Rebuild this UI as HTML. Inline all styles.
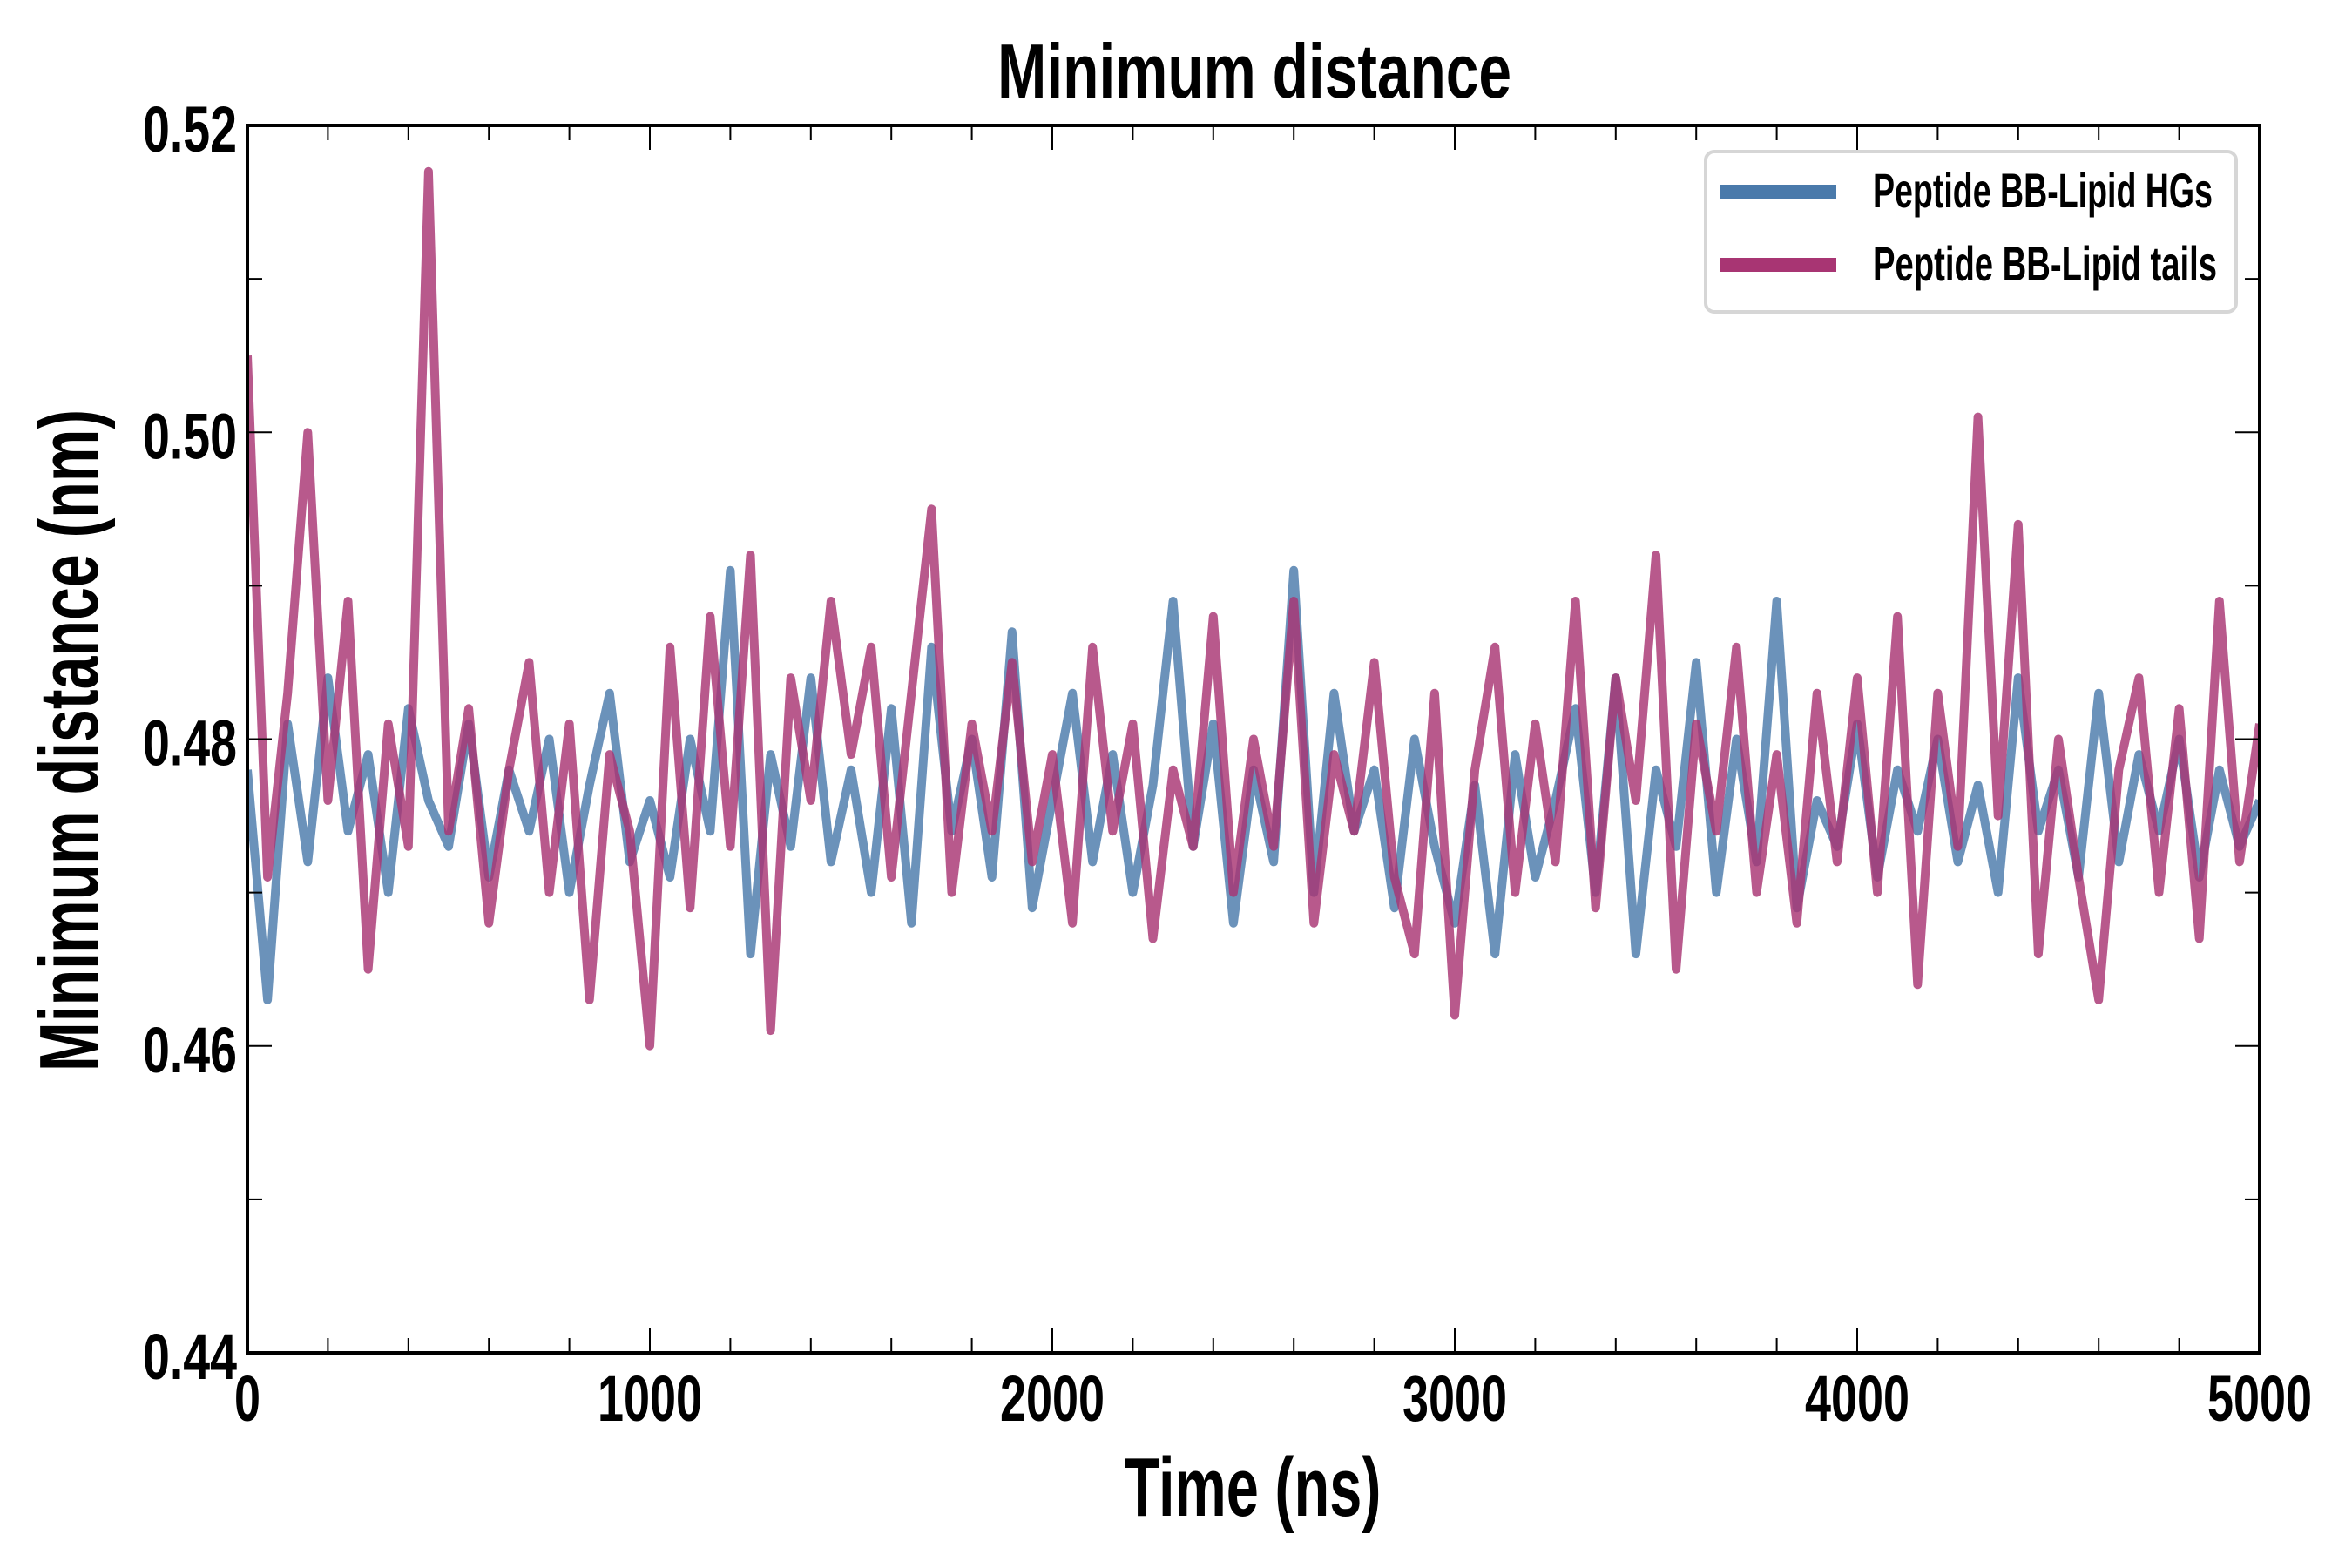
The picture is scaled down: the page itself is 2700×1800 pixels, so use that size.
<!DOCTYPE html>
<html><head><meta charset="utf-8"><style>
html,body{margin:0;padding:0;background:#fff;}
svg{display:block;font-family:"Liberation Sans",sans-serif;font-weight:bold;}
</style></head><body>
<svg id="chart" width="2700" height="1800" viewBox="0 0 2700 1800" xmlns="http://www.w3.org/2000/svg">
<rect width="2700" height="1800" fill="#fff"/>
<text x="1440" y="112" font-size="88" text-anchor="middle" textLength="590" lengthAdjust="spacingAndGlyphs">Minimum distance</text>
<text x="1438" y="1740" font-size="96" text-anchor="middle" textLength="295" lengthAdjust="spacingAndGlyphs">Time (ns)</text>
<text transform="translate(112,850) rotate(-90)" font-size="96" text-anchor="middle" textLength="760" lengthAdjust="spacingAndGlyphs">Minimum distance (nm)</text>
<g id="series"></g>
<g id="axes"></g>
<g>
<rect x="1958" y="174" width="609" height="184" rx="10" fill="#fff" stroke="#d6d6d6" stroke-width="4"/>
<line x1="1974" y1="220" x2="2108" y2="220" stroke="#4a7aab" stroke-width="16"/>
<line x1="1974" y1="304" x2="2108" y2="304" stroke="#a83573" stroke-width="16"/>
<text x="2150" y="238" font-size="56" textLength="390" lengthAdjust="spacingAndGlyphs">Peptide BB-Lipid HGs</text>
<text x="2150" y="322" font-size="56" textLength="395" lengthAdjust="spacingAndGlyphs">Peptide BB-Lipid tails</text>
</g>
</svg>
<script>
const times = Array.from({length:101},(_, i)=>i*50);
const tailsValues = [0.505,0.471,0.483,0.500,0.476,0.489,0.465,0.481,0.473,0.517,0.474,0.482,0.468,0.478,0.485,0.470,0.481,0.463,0.479,0.474,
0.460,0.486,0.469,0.488,0.473,0.492,0.461,0.484,0.476,0.489,0.479,0.486,0.471,0.483,0.495,0.470,0.481,0.474,0.485,0.472,
0.479,0.468,0.486,0.474,0.481,0.467,0.478,0.473,0.488,0.470,0.480,0.473,0.489,0.468,0.479,0.474,0.485,0.471,0.466,0.483,
0.462,0.478,0.486,0.470,0.481,0.472,0.489,0.469,0.484,0.476,0.492,0.465,0.481,0.474,0.486,0.470,0.479,0.468,0.483,0.472,
0.484,0.470,0.488,0.464,0.483,0.473,0.501,0.475,0.494,0.466,0.480,0.471,0.463,0.478,0.484,0.470,0.482,0.467,0.489,0.472,0.481];
const hgsValues = [0.478,0.463,0.481,0.472,0.484,0.474,0.479,0.470,0.482,0.476,0.473,0.481,0.471,0.478,0.474,0.480,0.470,0.477,0.483,0.472,
0.476,0.471,0.480,0.474,0.491,0.466,0.479,0.473,0.484,0.472,0.478,0.470,0.482,0.468,0.486,0.474,0.480,0.471,0.487,0.469,
0.476,0.483,0.472,0.479,0.470,0.477,0.489,0.473,0.481,0.468,0.478,0.472,0.491,0.470,0.483,0.474,0.478,0.469,0.480,0.473,
0.468,0.477,0.466,0.479,0.471,0.476,0.482,0.470,0.484,0.466,0.478,0.473,0.485,0.470,0.480,0.472,0.489,0.469,0.476,0.473,
0.481,0.471,0.478,0.474,0.480,0.472,0.477,0.470,0.484,0.474,0.478,0.471,0.483,0.472,0.479,0.474,0.480,0.471,0.478,0.473,0.476];
const xTickLabels = ["0","1000","2000","3000","4000","5000"];
const yTickLabels = ["0.44","0.46","0.48","0.50","0.52"];

const L=284,R=2594,T=144,B=1553;
const xMin=0,xMax=5000,yMin=0.44,yMax=0.52;
const X=v=>L+(v-xMin)/(xMax-xMin)*(R-L);
const Y=v=>B-(v-yMin)/(yMax-yMin)*(B-T);
const NS="http://www.w3.org/2000/svg";
function mk(tag,attrs,parent){const e=document.createElementNS(NS,tag);for(const k in attrs)e.setAttribute(k,attrs[k]);parent.appendChild(e);return e;}
const sg=document.getElementById('series');
const clip=mk('clipPath',{id:'pc'},sg);mk('rect',{x:L,y:T,width:R-L,height:B-T},clip);
function drawLine(vals,color,name){
  const d=vals.map((v,i)=>(i?'L':'M')+X(times[i]).toFixed(1)+','+Y(v).toFixed(1)).join(' ');
  const p=mk('path',{d:d,fill:'none',stroke:color,'stroke-width':10,'stroke-opacity':0.82,'stroke-linejoin':'round','clip-path':'url(#pc)'},sg);
  
  
}
drawLine(hgsValues,'#4a7aab','line-hgs');
drawLine(tailsValues,'#a83573','line-tails');

const ag=document.getElementById('axes');
const frame=mk('rect',{x:L,y:T,width:R-L,height:B-T,fill:'none',stroke:'#000','stroke-width':4},ag);


for(let v=0;v<=5000;v+=200){
  const major=v%1000===0, len=major?28:17, x=X(v);
  mk('line',{x1:x,y1:B,x2:x,y2:B-len,stroke:'#000','stroke-width':2},ag);
  mk('line',{x1:x,y1:T,x2:x,y2:T+len,stroke:'#000','stroke-width':2},ag);
}
xTickLabels.forEach(s=>{
  const t=mk('text',{x:X(+s),y:B+78,'font-size':74,'text-anchor':'middle',textLength:s.length*30,lengthAdjust:'spacingAndGlyphs'},ag);
  t.textContent=s;
  
  
});
for(let k=0;k<=8;k++){
  const v=0.44+k*0.01, major=k%2===0, len=major?28:17, y=Y(v);
  mk('line',{x1:L,y1:y,x2:L+len,y2:y,stroke:'#000','stroke-width':2},ag);
  mk('line',{x1:R,y1:y,x2:R-len,y2:y,stroke:'#000','stroke-width':2},ag);
}
yTickLabels.forEach(s=>{
  const t=mk('text',{x:L-12,y:Y(+s)+30,'font-size':74,'text-anchor':'end',textLength:108,lengthAdjust:'spacingAndGlyphs'},ag);
  t.textContent=s;
  
  
});
</script>
</body></html>
